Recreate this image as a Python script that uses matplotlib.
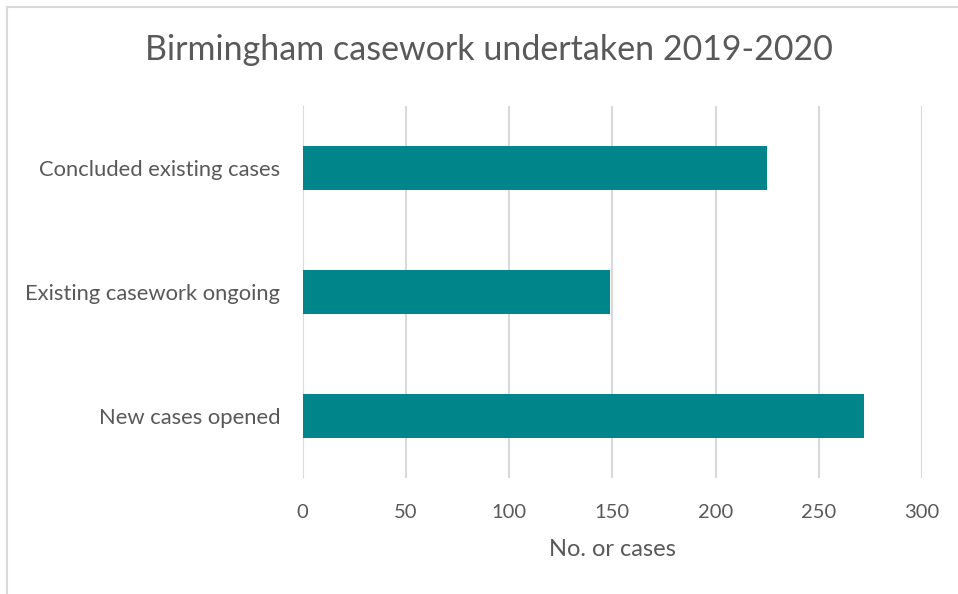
import matplotlib
matplotlib.use("Agg")
import matplotlib.pyplot as plt
from matplotlib.lines import Line2D

categories = ["New cases opened", "Existing casework ongoing", "Concluded existing cases"]
values = [272, 149, 225]
xticks = [0, 50, 100, 150, 200, 250, 300]

W, H = 958, 594
fig = plt.figure(figsize=(W / 100, H / 100), dpi=100)
plt.rcParams["font.family"] = ["Lato", "DejaVu Sans"]
text_color = "#595959"

ax = fig.add_axes([302.5 / W, 1 - 478 / H, (922 - 302.5) / W, (478 - 106) / H])
ax.barh(range(len(categories)), values, height=0.35, color="#00868A", zorder=3)
ax.set_xlim(0, 300)
ax.set_ylim(-0.5, len(categories) - 0.5)
ax.set_xticks(xticks)
ax.set_xticklabels([str(t) for t in xticks])
ax.set_yticks(range(len(categories)))
ax.set_yticklabels(categories)
ax.tick_params(axis="both", length=0, labelcolor=text_color)
ax.tick_params(axis="x", labelsize=14.5, pad=18.5)
ax.tick_params(axis="y", labelsize=15.8, pad=16)
ax.grid(axis="x", color="#D9D9D9", linewidth=1.5, zorder=0)
for s in ax.spines.values():
    s.set_visible(False)

ax.set_xlabel("No. or cases", fontsize=17, color=text_color, labelpad=13)
fig.text(489 / W, 1 - 50 / H, "Birmingham casework undertaken 2019-2020",
         ha="center", va="center", fontsize=24.5, color=text_color)

# chart frame (top and left edges)
fig.add_artist(Line2D([6.5 / W, 6.5 / W], [0, 1 - 6.5 / H], transform=fig.transFigure,
                      color="#D9D9D9", linewidth=1.5))
fig.add_artist(Line2D([6.5 / W, 1], [1 - 6.5 / H, 1 - 6.5 / H], transform=fig.transFigure,
                      color="#D9D9D9", linewidth=1.5))

fig.savefig("out.png", dpi=100)
